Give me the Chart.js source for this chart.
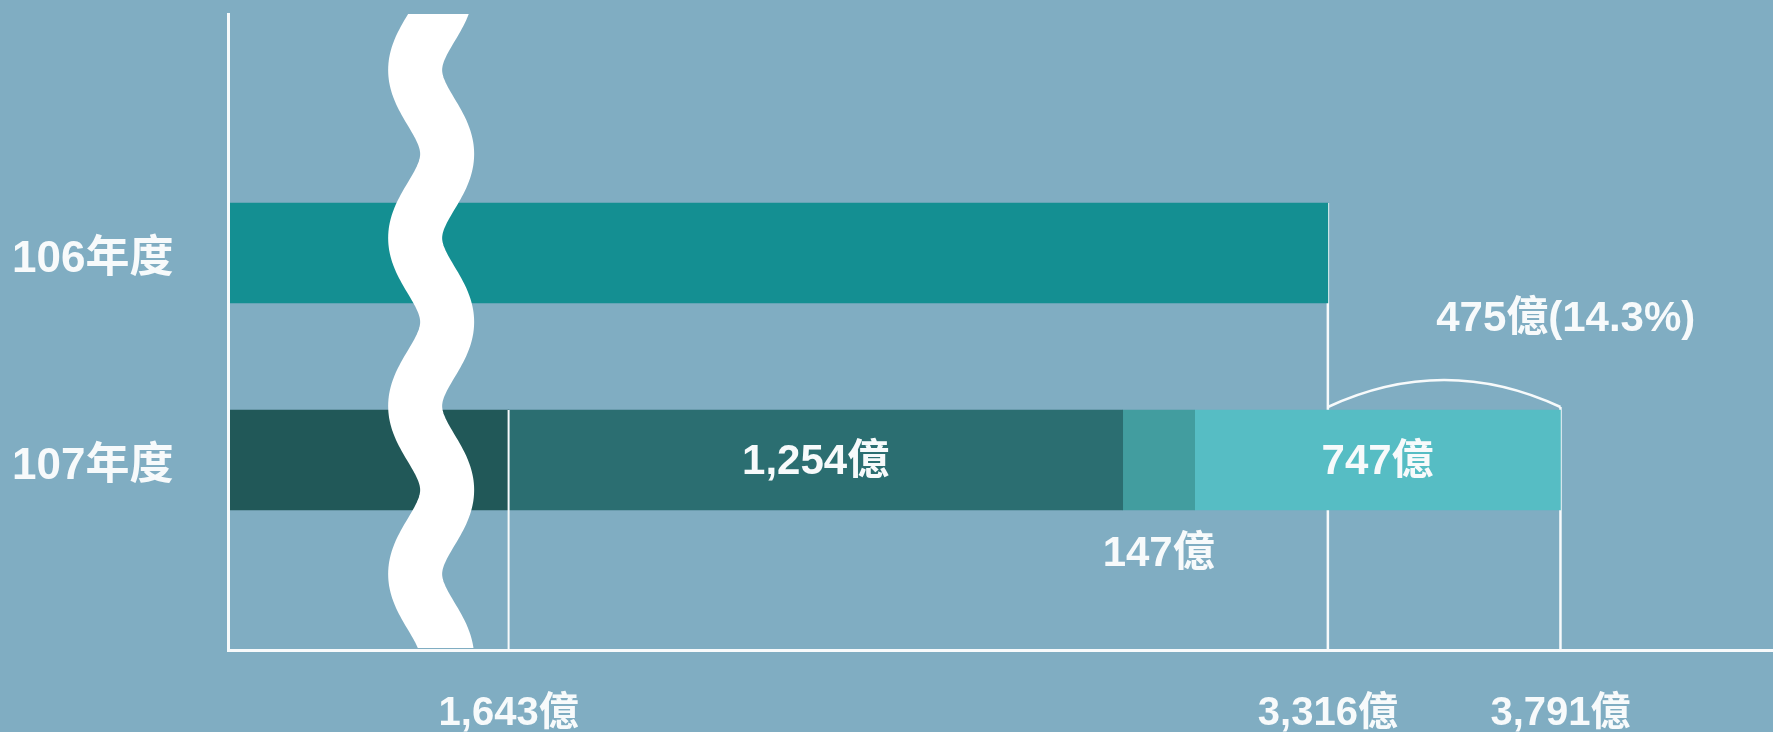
<!DOCTYPE html>
<html>
<head>
<meta charset="utf-8">
<script src="https://cdn.jsdelivr.net/npm/chart.js@4/dist/chart.umd.min.js"></script>
<style>
  html, body { margin: 0; padding: 0; background: #80adc2; }
  #wrap { width: 1773px; height: 732px; }
</style>
</head>
<body>
<div id="wrap"><canvas id="budgetChart"></canvas></div>
<script>
/* ---- data ---- */
const years      = ['106年度', '107年度'];
const total106   = [3316];
const parts107   = [1643, 1254, 147, 747];
const unit       = '億';

/* ---- look ---- */
const FONT      = "'Liberation Sans', 'Noto Sans CJK TC', sans-serif";
const WHITE     = '#f7fafb';
const color106  = '#148f92';
const colors107 = ['#215858', '#2b6e71', '#429d9f', '#56bdc4'];

const sum107    = parts107.reduce((a, b) => a + b, 0);
const growth    = sum107 - total106[0];
const growthPct = (growth / total106[0] * 100).toFixed(1);
const axisMarks = [parts107[0], total106[0], sum107];

const fmt = v => Number(v).toLocaleString('en-US') + unit;

/* bars: 106 on row 0, 107 segments stacked on row 1 */
const datasets = [{
  label: years[0],
  data: total106.map(v => ({ x: v, y: 0 })),
  backgroundColor: color106,
  stack: 'all'
}].concat(parts107.map((v, i) => ({
  label: years[1] + ' ' + i,
  data: [{ x: v, y: 1 }],
  backgroundColor: colors107[i],
  stack: 'all'
})));

function guideLine(ctx, px, y0, y1) {
  ctx.beginPath();
  ctx.moveTo(px, y0);
  ctx.lineTo(px, y1);
  ctx.stroke();
}

/* guide lines, arc, axis break and value labels */
const annotPlugin = {
  id: 'annot',
  beforeDatasetsDraw(chart) {
    const { ctx, chartArea, scales: { x } } = chart;
    const bar106 = chart.getDatasetMeta(0).data[0];
    const bar107 = chart.getDatasetMeta(1).data[0];
    const top106 = bar106.y - bar106.height / 2;
    const top107 = bar107.y - bar107.height / 2;
    ctx.save();
    ctx.strokeStyle = WHITE;
    ctx.lineWidth = 2.5;
    guideLine(ctx, x.getPixelForValue(total106[0]), top106, chartArea.bottom);
    guideLine(ctx, x.getPixelForValue(sum107), top107 - 3, chartArea.bottom);
    ctx.restore();
  },
  afterDatasetsDraw(chart) {
    const { ctx, chartArea, scales: { x } } = chart;
    const segs = parts107.map((_, i) => chart.getDatasetMeta(i + 1).data[0]);
    const bar = segs[0];
    const top107 = bar.y - bar.height / 2;
    const bot107 = bar.y + bar.height / 2;

    /* 1,643 line runs over the bar */
    ctx.save();
    ctx.strokeStyle = WHITE;
    ctx.lineWidth = 2;
    guideLine(ctx, x.getPixelForValue(parts107[0]), top107, chartArea.bottom);

    /* arc over the increase */
    const x1 = x.getPixelForValue(total106[0]);
    const x2 = x.getPixelForValue(sum107);
    const arcY = top107 - 3;
    ctx.lineWidth = 2.5;
    ctx.beginPath();
    ctx.moveTo(x1, arcY);
    ctx.quadraticCurveTo((x1 + x2) / 2, arcY - 54, x2, arcY);
    ctx.stroke();
    ctx.restore();

    /* wavy axis break */
    const cx = chartArea.left + 0.724 * (x.getPixelForValue(parts107[0]) - chartArea.left);
    ctx.save();
    ctx.beginPath();
    ctx.rect(chartArea.left, chartArea.top, chartArea.width, chartArea.height - 2);
    ctx.clip();
    ctx.strokeStyle = '#ffffff';
    ctx.lineWidth = 54;
    ctx.lineCap = 'butt';
    ctx.lineJoin = 'round';
    ctx.beginPath();
    for (let yy = chartArea.top - 30; yy <= chartArea.bottom + 30; yy += 2) {
      const wx = cx - 16 * Math.cos(2 * Math.PI * (yy - 70) / 168);
      if (yy === chartArea.top - 30) ctx.moveTo(wx, yy); else ctx.lineTo(wx, yy);
    }
    ctx.stroke();
    ctx.restore();

    /* value labels */
    ctx.save();
    ctx.fillStyle = WHITE;
    ctx.font = `bold 42px ${FONT}`;
    ctx.textBaseline = 'middle';
    ctx.textAlign = 'center';
    [1, 3].forEach(i => {
      const s = segs[i];
      ctx.fillText(fmt(parts107[i]), (s.base + s.x) / 2, s.y + 2);
    });
    const s2 = segs[2];
    ctx.fillText(fmt(parts107[2]), (s2.base + s2.x) / 2, bot107 + 44);
    ctx.textAlign = 'left';
    ctx.fillText(`${fmt(growth)}(${growthPct}%)`, (x1 + x2) / 2 - 8, arcY - 88);
    ctx.restore();
  }
};

new Chart(document.getElementById('budgetChart'), {
  type: 'bar',
  data: { datasets },
  options: {
    indexAxis: 'y',
    responsive: true,
    maintainAspectRatio: false,
    animation: false,
    barThickness: 100,
    layout: { padding: { top: 14, left: 12, right: 0, bottom: 0 } },
    plugins: { legend: { display: false }, tooltip: { enabled: false } },
    scales: {
      x: {
        type: 'linear',
        stacked: true,
        min: 1070,
        max: 4225,
        grid: { display: false },
        border: { color: WHITE, width: 3, z: 1 },
        afterBuildTicks: s => { s.ticks = axisMarks.map(v => ({ value: v })); },
        afterFit: s => { s.height = 82; s.paddingLeft = 0; s.paddingRight = 0; },
        ticks: {
          autoSkip: false,
          maxRotation: 0,
          padding: 32,
          color: WHITE,
          font: { family: FONT, size: 40, weight: 'bold' },
          callback: v => fmt(v)
        }
      },
      y: {
        type: 'linear',
        reverse: true,
        offset: false,
        bounds: 'data',
        min: -1.155,
        max: 1.918,
        grid: { display: false },
        border: { color: WHITE, width: 3, z: 1 },
        afterBuildTicks: s => { s.ticks = years.map((_, i) => ({ value: i })); },
        afterFit: s => { s.width = 216; s.paddingTop = 0; s.paddingBottom = 0; },
        ticks: {
          crossAlign: 'far',
          labelOffset: 7,
          color: WHITE,
          font: { family: FONT, size: 44, weight: 'bold' },
          callback: v => years[v]
        }
      }
    }
  },
  plugins: [annotPlugin]
});
</script>
</body>
</html>
